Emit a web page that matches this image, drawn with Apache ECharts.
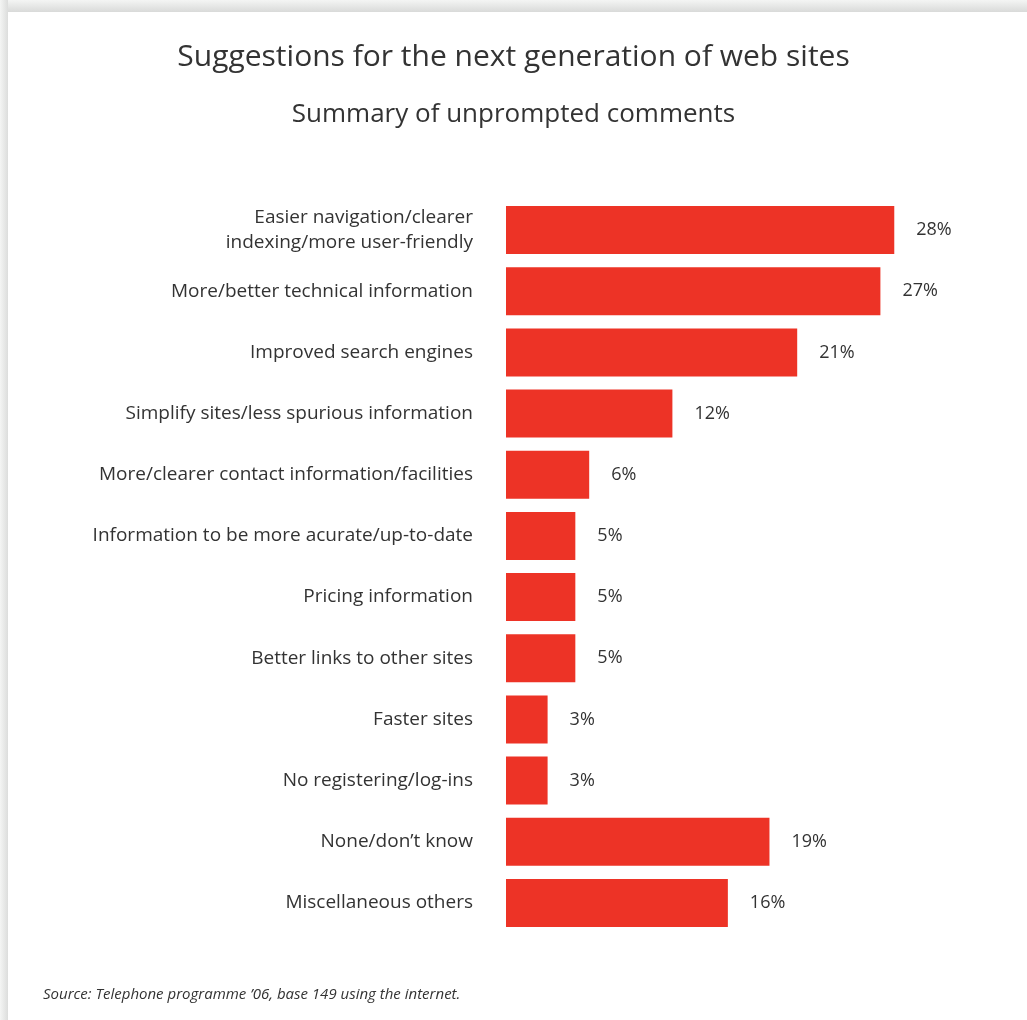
<!DOCTYPE html>
<html>
<head>
<meta charset="utf-8">
<script src="https://cdn.jsdelivr.net/npm/echarts@6/dist/echarts.min.js"></script>
<style>
  html, body { margin: 0; padding: 0; background: #ffffff; }
  #chart { width: 1027px; height: 1020px; }
</style>
</head>
<body>
<div id="chart"></div>
<script>
// Survey answers, listed top to bottom
const categories = [
  'Easier navigation/clearer\nindexing/more user-friendly',
  'More/better technical information',
  'Improved search engines',
  'Simplify sites/less spurious information',
  'More/clearer contact information/facilities',
  'Information to be more acurate/up-to-date',
  'Pricing information',
  'Better links to other sites',
  'Faster sites',
  'No registering/log-ins',
  'None/don\u2019t know',
  'Miscellaneous others'
];
// Share of respondents (%)
const shares = [28, 27, 21, 12, 6, 5, 5, 5, 3, 3, 19, 16];

const FONT = '"Open Sans", "Noto Sans", sans-serif';
const TEXT = '#333333';
const BAR = '#ED3326';

const chart = echarts.init(document.getElementById('chart'), null, { renderer: 'canvas' });

chart.setOption({
  backgroundColor: '#ffffff',
  animation: false,
  title: [
    {
      text: 'Suggestions for the next generation of web sites',
      left: 'center',
      top: 37,
      textStyle: { fontFamily: FONT, fontSize: 30, fontWeight: 'normal', color: TEXT }
    },
    {
      text: 'Summary of unprompted comments',
      left: 'center',
      top: 97,
      textStyle: { fontFamily: FONT, fontSize: 26, fontWeight: 'normal', color: TEXT }
    }
  ],
  grid: { left: 506, right: 105, top: 199.5, bottom: 86.5, containLabel: false },
  xAxis: {
    type: 'value',
    min: 0,
    max: 30,
    show: false
  },
  yAxis: {
    type: 'category',
    data: categories,
    inverse: true,
    axisLine: { show: false },
    axisTick: { show: false },
    axisLabel: {
      margin: 33,
      color: TEXT,
      fontFamily: FONT,
      fontSize: 19,
      lineHeight: 25,
      align: 'right'
    }
  },
  series: [{
    type: 'bar',
    data: shares,
    barCategoryGap: '21.4%',
    itemStyle: { color: BAR },
    label: {
      show: true,
      position: 'right',
      distance: 22,
      formatter: '{c}%',
      color: TEXT,
      fontFamily: FONT,
      fontSize: 18
    }
  }],
  graphic: [
    // page shadow along the top and left edges
    {
      type: 'rect',
      shape: { x: 0, y: 0, width: 1027, height: 12 },
      style: {
        fill: new echarts.graphic.LinearGradient(0, 0, 0, 1, [
          { offset: 0, color: '#f4f5f4' },
          { offset: 1, color: '#d9dad9' }
        ])
      },
      silent: true
    },
    {
      type: 'rect',
      shape: { x: 0, y: 0, width: 8, height: 1020 },
      style: {
        fill: new echarts.graphic.LinearGradient(0, 0, 1, 0, [
          { offset: 0, color: '#f4f5f4' },
          { offset: 1, color: '#dcdddc' }
        ])
      },
      silent: true
    },
    {
      type: 'text',
      left: 43,
      top: 987,
      style: {
        text: 'Source: Telephone programme \u201906, base 149 using the internet.',
        fontFamily: FONT,
        fontStyle: 'italic',
        fontSize: 15,
        fill: TEXT
      },
      silent: true
    }
  ]
});
</script>
</body>
</html>
